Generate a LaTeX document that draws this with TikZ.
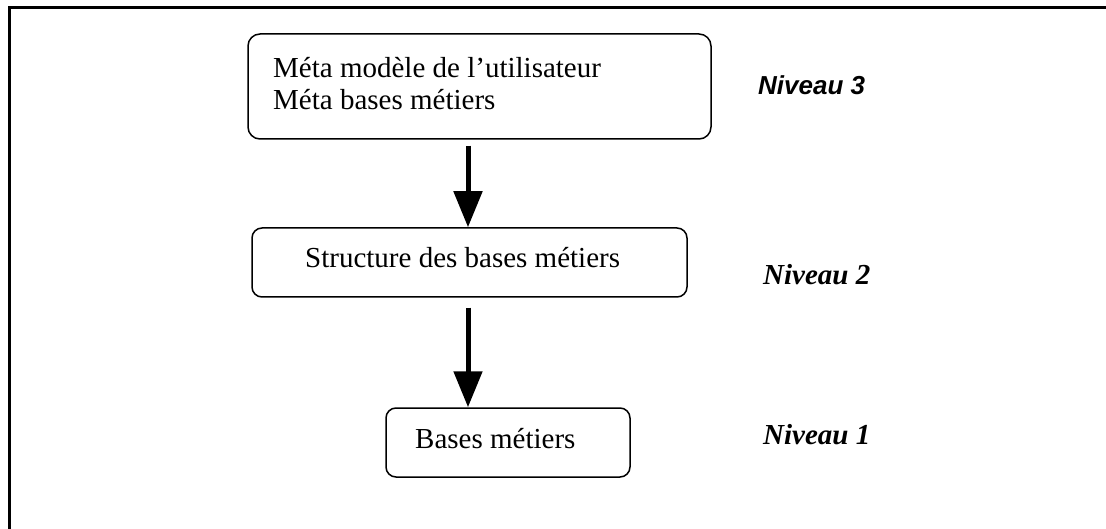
\documentclass[tikz,border=0pt]{standalone}
\usepackage{fontspec}
\setmainfont{Liberation Serif}
\newfontfamily\labelsans{Liberation Sans}
\usetikzlibrary{arrows.meta}
\tikzset{
  levelbox/.style={draw, line width=1.5pt, rounded corners=12pt, inner sep=0pt},
  boxtext/.style={anchor=base west, inner sep=0pt, font=\fontsize{29}{31}\selectfont},
  lvlserif/.style={anchor=base west, inner sep=0pt, font=\fontsize{29}{31}\selectfont\bfseries\itshape},
  lvlsans/.style={anchor=base west, inner sep=0pt, font=\labelsans\fontsize{26}{28}\selectfont\bfseries\itshape},
  flow/.style={line width=5pt, -{Triangle[width=28pt,length=36pt]}}
}
\begin{document}
\begin{tikzpicture}[x=1pt,y=-1pt]
  \useasboundingbox (0,0) rectangle (1106,529);
  % outer frame, running past the right and bottom edges
  \draw[line width=3pt] (9,540) -- (9,8) -- (1120,8);

  % the three level boxes
  \node[levelbox, minimum width=463pt, minimum height=105pt] (b3) at (479.5,86.5) {};
  \node[levelbox, rounded corners=10pt, minimum width=435pt, minimum height=69pt] (b2) at (469.5,262.5) {};
  \node[levelbox, rounded corners=10pt, minimum width=244pt, minimum height=69pt] (b1) at (508,442.5) {};

  % box contents
  \node[boxtext] (t3a) at (273,78) {Méta modèle de l’utilisateur};
  \node[boxtext] (t3b) at (273,110) {Méta bases métiers};
  \node[boxtext] (t2) at (305,268) {Structure des bases métiers};
  \node[boxtext] (t1) at (415,448) {Bases métiers};

  % level labels
  \node[lvlsans] (n3) at (758,95) {Niveau 3};
  \node[lvlserif] (n2) at (763,285) {Niveau 2};
  \node[lvlserif] (n1) at (763,444) {Niveau 1};

  % downward arrows between levels
  \coordinate (ax) at (468,0);
  \draw[flow] ([yshift=-6pt]b3.south -| ax) -- (b2.north -| ax);
  \draw[flow] ([yshift=-10pt]b2.south -| ax) -- (b1.north -| ax);
\end{tikzpicture}
\end{document}
